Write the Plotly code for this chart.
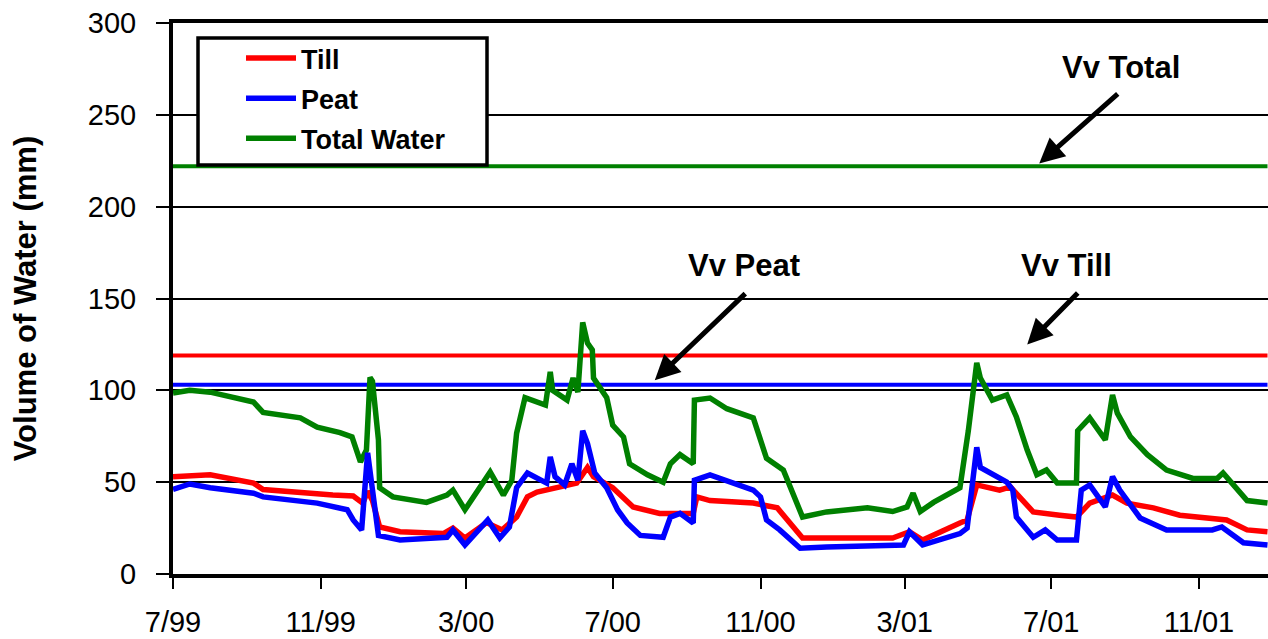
import plotly.graph_objects as go

# ---------------- data ----------------
till_dates = ["1999-07-01", "1999-08-01", "1999-09-06", "1999-09-14", "1999-11-11", "1999-11-28",
              "1999-12-06", "1999-12-10", "1999-12-14", "1999-12-20", "2000-01-06", "2000-02-11",
              "2000-02-19", "2000-02-29", "2000-03-18", "2000-03-31", "2000-04-12", "2000-04-21",
              "2000-04-29", "2000-05-18", "2000-06-01", "2000-06-10", "2000-06-15", "2000-07-01",
              "2000-07-18", "2000-08-09", "2000-09-06", "2000-09-09", "2000-09-20", "2000-10-26",
              "2000-11-15", "2000-12-06", "2000-12-26", "2001-02-19", "2001-03-05", "2001-03-16",
              "2001-04-16", "2001-04-22", "2001-04-30", "2001-05-19", "2001-05-28", "2001-06-16",
              "2001-07-08", "2001-07-22", "2001-08-02", "2001-08-21", "2001-09-02", "2001-09-24",
              "2001-10-16", "2001-11-24", "2001-12-11", "2001-12-28"]
till_values = [53, 54, 49.5, 46, 43, 42.5,
               38.6, 45, 40, 25.6, 23, 22,
               25, 19.6, 28, 24, 31, 42,
               44.6, 47, 49.5, 58, 53, 47,
               36.5, 33, 33, 42, 40, 38.6,
               36, 19.6, 19.6, 19.6, 23, 18.5,
               27.8, 29.4, 48.5, 45.7, 47.4, 33.8,
               32, 31, 38.6, 43, 38.6, 36,
               32, 29.4, 24, 23]

peat_dates = ["1999-07-01", "1999-07-15", "1999-08-01", "1999-09-06", "1999-09-14", "1999-10-29",
              "1999-11-23", "1999-11-28", "1999-12-05", "1999-12-10", "1999-12-14", "1999-12-19",
              "2000-01-06", "2000-02-14", "2000-02-19", "2000-02-29", "2000-03-19", "2000-03-29",
              "2000-04-06", "2000-04-12", "2000-04-21", "2000-05-07", "2000-05-10", "2000-05-14",
              "2000-05-22", "2000-05-28", "2000-06-02", "2000-06-06", "2000-06-10", "2000-06-14",
              "2000-06-16", "2000-06-26", "2000-07-05", "2000-07-13", "2000-07-24", "2000-08-12",
              "2000-08-18", "2000-08-26", "2000-09-06", "2000-09-07", "2000-09-20", "2000-10-26",
              "2000-11-01", "2000-11-06", "2000-11-17", "2000-12-04", "2000-12-26", "2001-02-28",
              "2001-03-05", "2001-03-16", "2001-04-16", "2001-04-22", "2001-04-26", "2001-04-30",
              "2001-05-03", "2001-05-25", "2001-05-30", "2001-06-02", "2001-06-16", "2001-06-26",
              "2001-07-06", "2001-07-22", "2001-07-26", "2001-08-02", "2001-08-15", "2001-08-21",
              "2001-08-27", "2001-09-13", "2001-10-05", "2001-11-12", "2001-11-20", "2001-12-08",
              "2001-12-28"]
peat_values = [46, 49, 47, 44, 42, 38.6,
               35, 29.4, 24, 66, 46, 21,
               18.5, 20, 24, 15.8, 29.4, 19.6,
               25.6, 47, 55, 49.5, 63.7, 53,
               48.5, 60, 51, 78, 71, 62,
               55, 47, 35, 27.8, 21, 20,
               31, 33, 27.8, 51, 54, 45.7,
               42, 29.4, 24, 14, 14.7, 15.8,
               23, 15.8, 22, 25, 49.5, 69,
               58, 50, 45.7, 31, 20, 24,
               18.5, 18.5, 45.7, 48.5, 36.5, 53,
               45.7, 30.5, 24, 24, 25.6, 17,
               15.8]

total_dates = ["1999-07-01", "1999-07-15", "1999-08-01", "1999-09-06", "1999-09-14", "1999-10-15",
               "1999-10-29", "1999-11-17", "1999-11-27", "1999-12-04", "1999-12-09", "1999-12-12",
               "1999-12-14", "1999-12-19", "1999-12-20", "1999-12-31", "2000-01-28", "2000-02-14",
               "2000-02-19", "2000-02-29", "2000-03-21", "2000-04-01", "2000-04-08", "2000-04-12",
               "2000-04-19", "2000-05-06", "2000-05-10", "2000-05-12", "2000-05-24", "2000-05-29",
               "2000-06-02", "2000-06-06", "2000-06-10", "2000-06-14", "2000-06-15", "2000-06-26",
               "2000-07-01", "2000-07-10", "2000-07-15", "2000-07-30", "2000-08-12", "2000-08-18",
               "2000-08-26", "2000-09-06", "2000-09-07", "2000-09-20", "2000-10-04", "2000-10-26",
               "2000-11-06", "2000-11-20", "2000-12-06", "2000-12-26", "2001-01-29", "2001-02-19",
               "2001-03-03", "2001-03-08", "2001-03-14", "2001-03-25", "2001-04-16", "2001-04-23",
               "2001-04-30", "2001-05-03", "2001-05-13", "2001-05-25", "2001-06-02", "2001-06-11",
               "2001-06-19", "2001-06-27", "2001-07-06", "2001-07-22", "2001-07-23", "2001-08-02",
               "2001-08-15", "2001-08-21", "2001-08-25", "2001-09-05", "2001-09-19", "2001-10-05",
               "2001-10-27", "2001-11-16", "2001-11-21", "2001-12-11", "2001-12-28"]
total_values = [98.5, 100, 99, 93.6, 88, 85,
                80, 77, 74.6, 61, 67.5, 107,
                105, 73, 47, 42, 39, 43,
                45.7, 35, 55.5, 43, 51, 76.6,
                96, 92, 110, 100, 94.7, 106.7,
                99, 137, 125.7, 122, 106.7, 96,
                81, 74.6, 60, 54, 50, 60,
                65, 60, 94.7, 95.8, 90, 85,
                63, 56.6, 31, 33.8, 36, 34,
                36.5, 44, 34, 39, 47, 78,
                115, 106.7, 94.7, 97.5, 85.5, 67.5,
                54, 56.6, 49.5, 49.5, 78, 85,
                73, 97.5, 87.6, 74.6, 65, 56.6,
                52, 52, 55, 40, 38.6]

vv_total = 222
vv_till = 119
vv_peat = 103
vv_span = ["1999-07-01", "2001-12-28"]

x_range = ["1999-07-01", "2001-12-28 10:00"]
tick_vals = ["1999-07-01", "1999-11-01", "2000-03-01", "2000-07-01",
             "2000-11-01", "2001-03-01", "2001-07-01", "2001-11-01"]
tick_text = ["7/99", "11/99", "3/00", "7/00", "11/00", "3/01", "7/01", "11/01"]

# ---------------- figure ----------------
RED, BLUE, GREEN = "#FF0000", "#0000FF", "#008000"
FONT = "Arial, Liberation Sans, Helvetica, sans-serif"

fig = go.Figure()

# saturated-volume reference lines
for val, col in [(vv_total, GREEN), (vv_till, RED), (vv_peat, BLUE)]:
    fig.add_trace(go.Scatter(x=vv_span, y=[val, val], mode="lines",
                             line=dict(color=col, width=4), showlegend=False,
                             hoverinfo="skip"))

fig.add_trace(go.Scatter(x=total_dates, y=total_values, mode="lines", name="Total Water",
                         line=dict(color=GREEN, width=5.5), legendgroup="c", legendrank=3))
fig.add_trace(go.Scatter(x=till_dates, y=till_values, mode="lines", name="Till",
                         line=dict(color=RED, width=5.5), legendgroup="a", legendrank=1))
fig.add_trace(go.Scatter(x=peat_dates, y=peat_values, mode="lines", name="Peat",
                         line=dict(color=BLUE, width=5.5), legendgroup="b", legendrank=2))

W, H = 1268, 639
L, R, T, B = 173, 0, 23, 65
pw, ph = W - L - R, H - T - B


def px(xp):
    return (xp - L) / pw


def py(yp):
    return (H - B - yp) / ph


# legend frame
fig.add_shape(type="rect", xref="paper", yref="paper",
              x0=px(198), x1=px(487), y0=py(165), y1=py(38),
              line=dict(color="black", width=3.5), fillcolor="white", layer="above")

# annotations: labels + arrows
labels = [
    ("Vv Total", "2001-08-28", 276.0),
    ("Vv Peat", "2000-10-18", 168.0),
    ("Vv Till", "2001-07-14", 168.0),
]
for text, xd, yv in labels:
    fig.add_annotation(x=xd, y=yv, text="<b>%s</b>" % text, showarrow=False,
                       font=dict(family=FONT, size=31, color="black"),
                       xanchor="center", yanchor="middle")

arrows = [
    ("2001-06-21", 223.5, 80, -71),
    ("2000-08-05", 105.5, 92, -88),
    ("2001-06-11", 125.0, 52, -53),
]
for xd, yv, ax, ay in arrows:
    fig.add_annotation(x=xd, y=yv, text="", showarrow=True, ax=ax, ay=ay,
                       arrowhead=2, arrowsize=1.0, arrowwidth=5, arrowcolor="black",
                       standoff=0, startstandoff=0)

fig.update_layout(
    width=W, height=H,
    margin=dict(l=L, r=R, t=T, b=B, pad=0),
    paper_bgcolor="white", plot_bgcolor="white",
    font=dict(family=FONT, color="black"),
    showlegend=True,
    legend=dict(x=px(241), y=py(34), xanchor="left", yanchor="top",
                bgcolor="rgba(0,0,0,0)", borderwidth=0,
                font=dict(family=FONT, size=27, color="black", weight="bold"),
                traceorder="grouped", tracegroupgap=2, itemwidth=50),
    xaxis=dict(type="date", range=x_range, tickmode="array", tickvals=tick_vals,
               ticktext=tick_text, showgrid=False, zeroline=False,
               showline=True, linecolor="black", linewidth=4, mirror=True,
               ticks="outside", ticklen=11, tickwidth=2, tickcolor="black",
               tickfont=dict(family=FONT, size=29, color="black"),
               ticklabelstandoff=8),
    yaxis=dict(range=[0, 300], tick0=0, dtick=50, showgrid=True, gridcolor="black",
               gridwidth=1.5, zeroline=False, showline=True, linecolor="black",
               linewidth=4, ticks="outside", ticklen=13, tickwidth=2, tickcolor="black",
               tickfont=dict(family=FONT, size=29, color="black"),
               ticklabelstandoff=14,
               title=dict(text="<b>Volume of Water (mm)</b>",
                          font=dict(family=FONT, size=31, color="black"), standoff=43)),
)

fig.write_html("out.html")
